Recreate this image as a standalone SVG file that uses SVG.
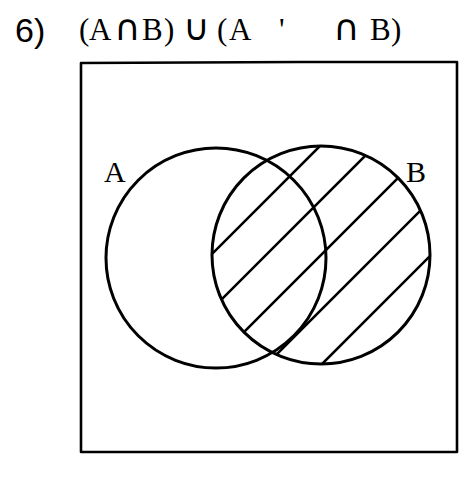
<svg xmlns="http://www.w3.org/2000/svg" width="474" height="477" viewBox="0 0 474 477">
  <style>
    .ink { fill: none; stroke: #000; stroke-linecap: round; stroke-linejoin: round; }
    .circ { stroke-width: 3; }
    .hatch { stroke-width: 2.6; }
    .frame { stroke-width: 2.6; }
    .tw { font-family: "Liberation Serif", "DejaVu Serif", serif; fill: #000; }
    .sym { font-family: "DejaVu Sans", sans-serif; fill: #000; }
  </style>
  <defs>
    <clipPath id="clipB">
      <circle cx="321" cy="255" r="109"/>
    </clipPath>
  </defs>
  <rect width="474" height="477" fill="#fff"/>

  <g id="title">
    <text x="15" y="42" font-family="Liberation Sans, Arial, sans-serif" font-size="34" fill="#000">6)</text>
    <text class="tw" y="40" font-size="31">
      <tspan x="79">(</tspan><tspan x="89">A</tspan><tspan x="142">B</tspan><tspan x="164">)</tspan>
      <tspan x="217">(</tspan><tspan x="229">A</tspan><tspan x="279">'</tspan><tspan x="370">B</tspan><tspan x="391">)</tspan>
    </text>
    <text class="sym" y="40" font-size="36">
      <tspan x="114">∩</tspan><tspan x="183">∪</tspan><tspan x="333">∩</tspan>
    </text>
  </g>

  <g id="frame">
    <path class="ink frame" d="M81,63 L300,62 L457,62 L457,452 L81,452 Z"/>
  </g>

  <g id="circleA">
    <circle class="ink circ" cx="216" cy="258" r="110"/>
  </g>

  <g id="circleB">
    <circle class="ink circ" cx="321" cy="255" r="109"/>
  </g>

  <g id="hatching" clip-path="url(#clipB)">
    <line class="ink hatch" x1="186" y1="280" x2="346" y2="120"/>
    <line class="ink hatch" x1="186" y1="335" x2="401" y2="120"/>
    <line class="ink hatch" x1="200" y1="376" x2="456" y2="120"/>
    <line class="ink hatch" x1="250" y1="381" x2="456" y2="175"/>
    <line class="ink hatch" x1="305" y1="381" x2="456" y2="230"/>
  </g>

  <g id="labels">
    <text class="tw" x="104" y="182" font-size="30">A</text>
    <text class="tw" x="406" y="182" font-size="30">B</text>
  </g>
</svg>
